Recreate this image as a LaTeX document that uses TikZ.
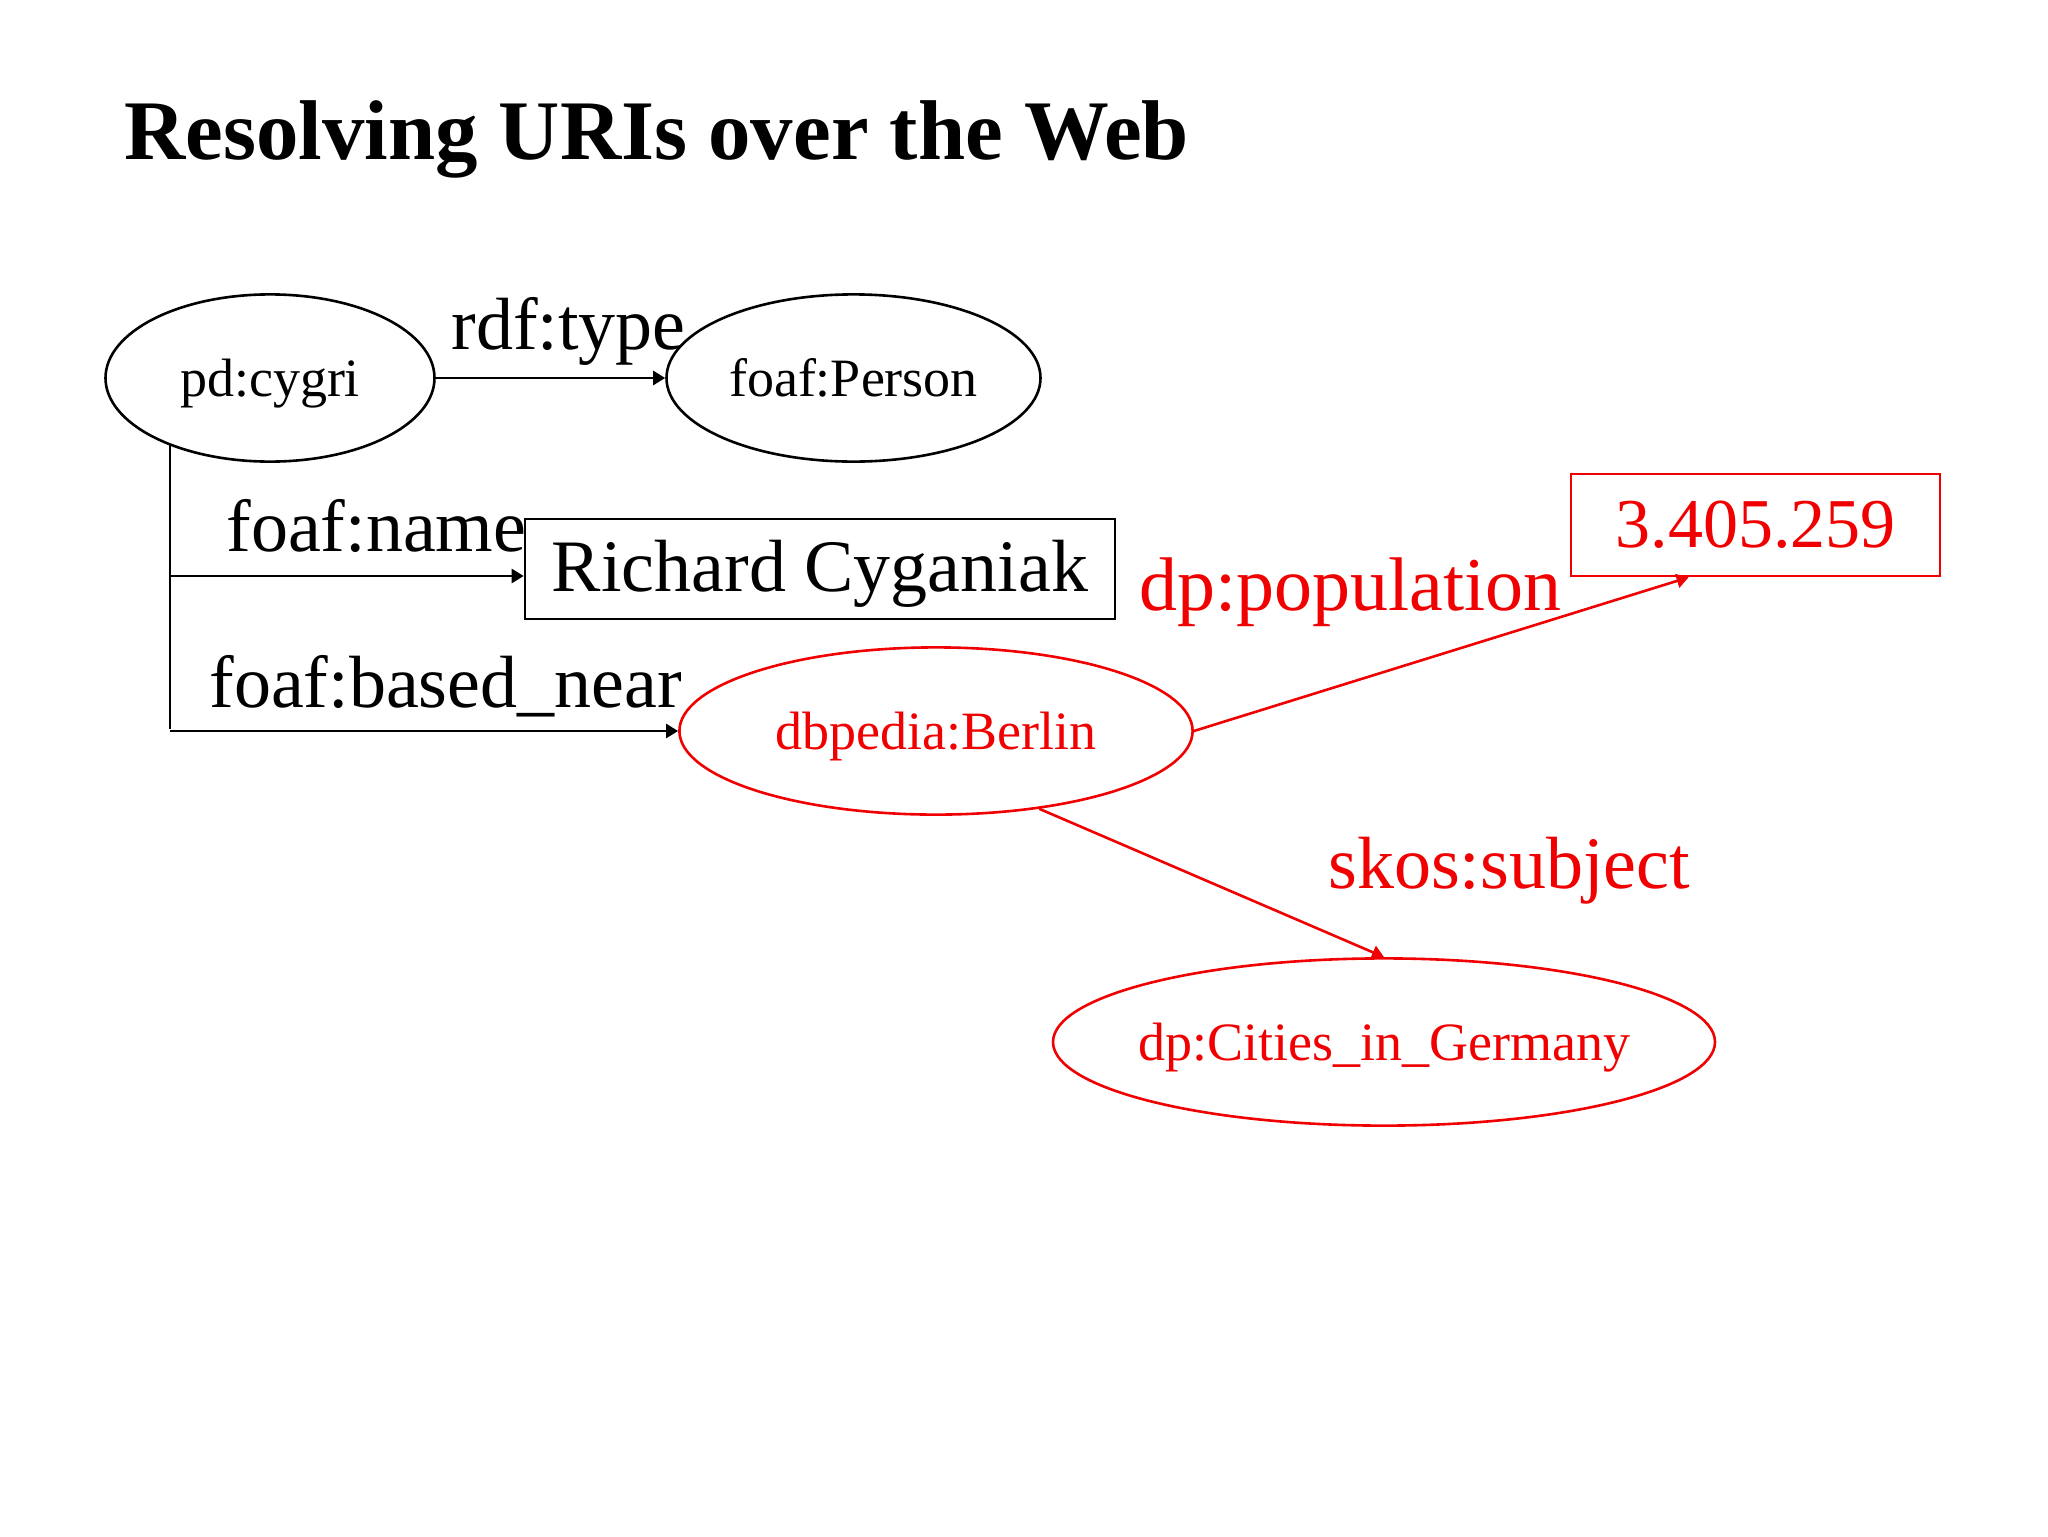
\documentclass[tikz,border=0pt]{standalone}
\usepackage{fontspec}
\setmainfont{Liberation Serif}
\usetikzlibrary{shapes.geometric,arrows.meta,calc}
\definecolor{rdred}{RGB}{240,0,0}
\newcommand{\zw}[1]{\makebox[0pt][c]{#1}}
\tikzset{
  conn/.style={line width=1.3pt},
  arr/.style={conn,-{Triangle[length=6pt,width=7pt]}},
  uri/.style={ellipse,draw,line width=1.3pt,inner sep=0pt,text height=18.5pt,text depth=0pt,font=\fontsize{27}{30}\selectfont},
  lit/.style={rectangle,draw,line width=1.3pt,inner sep=0pt},
  lbl/.style={anchor=base west,inner sep=0pt,font=\fontsize{37}{40}\selectfont},
  hot/.style={rdred,text=rdred}
}
\begin{document}
\begin{tikzpicture}[x=0.5pt,y=-0.5pt]
\useasboundingbox[fill=white] (0,0) rectangle (2048,1536);
\node[anchor=base west,inner sep=0pt,font=\fontsize{42.4}{46}\selectfont\bfseries] (title) at (124,159) {Resolving URIs over the Web};

\node[uri,minimum width=164.5pt,minimum height=83.6pt] (cygri) at (270,378) {\zw{pd:cygri}};
\node[uri,minimum width=187pt,minimum height=83.6pt] (person) at (853.5,378) {\zw{foaf:Person}};
\node[lit,minimum width=295pt,minimum height=50pt,text height=22.7pt,text depth=0pt,font=\fontsize{37}{40}\selectfont] (name) at (820,569) {Richard Cyganiak};
\node[uri,hot,minimum width=256.6pt,minimum height=83.6pt] (berlin) at (936,731) {\zw{dbpedia:Berlin}};
\node[lit,hot,minimum width=184.5pt,minimum height=51pt,font=\fontsize{35}{38}\selectfont] (pop) at (1755.5,525) {3.405.259};
\node[uri,hot,minimum width=331pt,minimum height=83.6pt] (cities) at (1384,1042) {\zw{dp:Cities\_in\_Germany}};

\node[lbl] (lrdf) at (451,349) {rdf:type};
\node[lbl] (lname) at (226,551) {foaf:name};
\node[lbl] (lnear) at (209,707) {foaf:based\_near};
\node[lbl,hot,font=\fontsize{38}{41}\selectfont] (lpop) at (1139,610) {dp:population};
\node[lbl,hot] (lskos) at (1328,888) {skos:subject};

\draw[arr] (cygri.east) -- (person.west);
\coordinate (ttop) at (170,445);
\coordinate (tbot) at (170,729);
\coordinate (nameIn) at ($(name.west)+(0,7)$);
\draw[conn] (ttop) -- (tbot);
\draw[arr] (ttop |- nameIn) -- (nameIn);
\draw[arr] (ttop |- berlin.west) -- (berlin.west);
\draw[arr,rdred] (berlin.east) -- ($(pop.south west)!0.32!(pop.south east)$);
\draw[arr,rdred] (berlin.-37) -- (cities.north);
\end{tikzpicture}
\end{document}
